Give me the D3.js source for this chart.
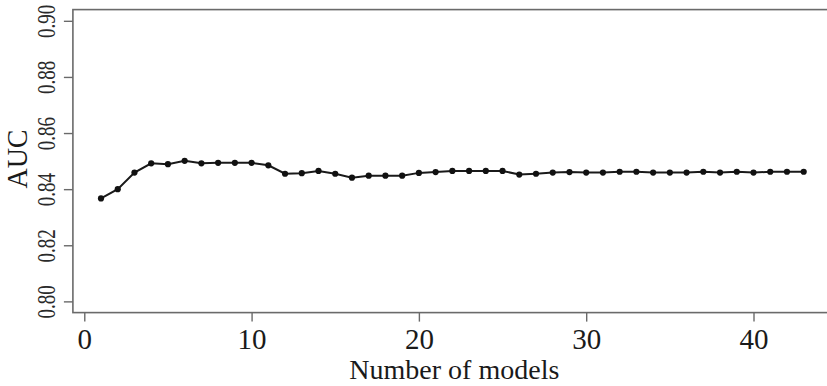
<!DOCTYPE html>
<html>
<head>
<meta charset="utf-8">
<script src="https://cdn.jsdelivr.net/npm/d3@7"></script>
<style>
  html, body { margin: 0; padding: 0; background: #fff; }
  svg { display: block; }
</style>
</head>
<body>
<svg id="chart" width="827" height="386"></svg>
<script>
// ---- data ----
const models = [1,2,3,4,5,6,7,8,9,10,11,12,13,14,15,16,17,18,19,20,21,22,23,24,25,26,27,28,29,30,31,32,33,34,35,36,37,38,39,40,41,42,43];
const auc = [0.8367,0.8400,0.8459,0.8492,0.8489,0.8501,0.8492,0.8494,0.8494,0.8494,0.8485,0.8455,0.8457,0.8465,0.8455,
             0.8441,0.8448,0.8448,0.8448,0.8458,0.8461,0.8465,0.8465,0.8465,0.8465,0.8452,0.8455,0.8459,0.8461,0.8459,
             0.8459,0.8462,0.8462,0.8459,0.8459,0.8459,0.8462,0.8459,0.8462,0.8459,0.8462,0.8462,0.8462];
const xTicks = [0,10,20,30,40];
const yTicks = [0.80,0.82,0.84,0.86,0.88,0.90];
const xTitle = "Number of models";
const yTitle = "AUC";

// ---- layout ----
const svg = d3.select("#chart");
const font = "'Liberation Serif','Times New Roman',serif";
const x = d3.scaleLinear().domain([-0.68, 44.68]).range([72.9, 831.8]);
const y = d3.scaleLinear().domain([0.796, 0.904]).range([312.6, 9.6]);

// box
svg.append("rect")
  .attr("x", x(-0.68)).attr("y", y(0.904))
  .attr("width", x(44.68) - x(-0.68)).attr("height", y(0.796) - y(0.904))
  .attr("fill", "none").attr("stroke", "#6a6a6a").attr("stroke-width", 1.6);

// x axis
const gx = svg.append("g")
  .attr("transform", `translate(0,${y(0.796)})`)
  .call(d3.axisBottom(x).tickValues(xTicks).tickFormat(d3.format("d")).tickSize(9).tickSizeOuter(0).tickPadding(6));
gx.select(".domain").remove();
gx.selectAll(".tick line").attr("stroke", "#6a6a6a").attr("stroke-width", 1.4);
gx.selectAll(".tick text")
  .attr("font-family", font).attr("font-size", 29).attr("fill", "#1a1a1a")
  .attr("dy", null).attr("y", 36);

// y axis
const gy = svg.append("g")
  .attr("transform", `translate(${x(-0.68)},0)`)
  .call(d3.axisLeft(y).tickValues(yTicks).tickFormat(d3.format(".2f")).tickSize(9).tickSizeOuter(0));
gy.select(".domain").remove();
gy.selectAll(".tick line").attr("stroke", "#6a6a6a").attr("stroke-width", 1.4);
gy.selectAll(".tick text")
  .attr("font-family", font).attr("font-size", 19).attr("fill", "#2a2a2a")
  .attr("x", null).attr("dy", null).attr("text-anchor", "middle")
  .attr("transform", `translate(${55 - x(-0.68)},0) rotate(-90) scale(1,1.3)`);

// titles
svg.append("text")
  .attr("x", (x(-0.68) + x(44.68)) / 2 + 2).attr("y", 379)
  .attr("text-anchor", "middle").attr("font-family", font).attr("font-size", 28).attr("fill", "#1a1a1a")
  .text(xTitle);
svg.append("text")
  .attr("transform", `translate(26.5,159) rotate(-90) scale(1,1.08)`)
  .attr("text-anchor", "middle").attr("font-family", font).attr("font-size", 28).attr("fill", "#1a1a1a")
  .text(yTitle);

// line + points
const pts = models.map((m, i) => [m, auc[i]]);
svg.append("path")
  .datum(pts)
  .attr("fill", "none").attr("stroke", "#1a1a1a").attr("stroke-width", 2)
  .attr("d", d3.line().x(d => x(d[0])).y(d => y(d[1])));
svg.append("g").selectAll("circle").data(pts).join("circle")
  .attr("cx", d => x(d[0])).attr("cy", d => y(d[1])).attr("r", 3.1)
  .attr("fill", "#111");
</script>
</body>
</html>
